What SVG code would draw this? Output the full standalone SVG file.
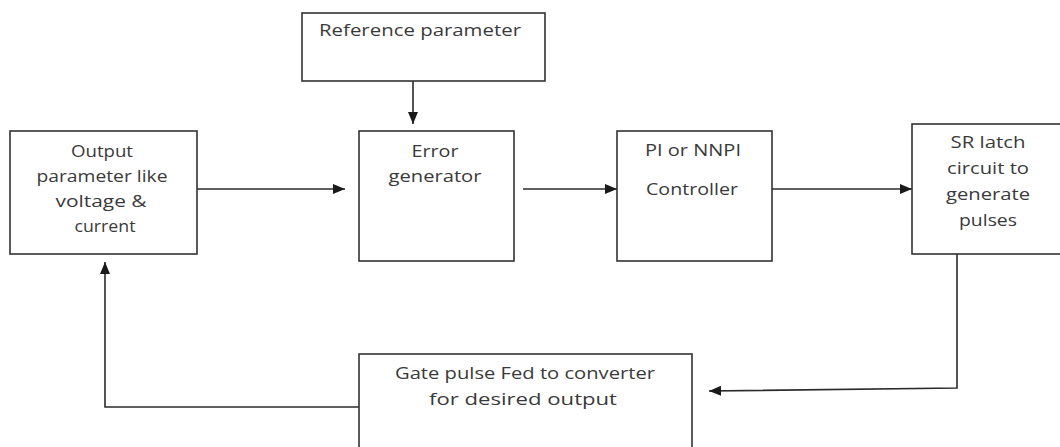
<svg xmlns="http://www.w3.org/2000/svg" width="1060" height="447" viewBox="0 0 1060 447">
  <style>
    .box { fill: #ffffff; stroke: #333333; stroke-width: 1.6; }
    .lbl { font-family: "Open Sans", "Liberation Sans", sans-serif; font-size: 17px; fill: #3a3a3a; text-anchor: middle; }
    .wire { fill: none; stroke: #2b2b2b; stroke-width: 1.6; }
  </style>
  <defs>
    <marker id="arrow" markerUnits="userSpaceOnUse" markerWidth="12" markerHeight="12" viewBox="0 0 12 12" refX="12" refY="6" orient="auto">
      <path d="M0,1 L12,6 L0,11 Z" fill="#1a1a1a"/>
    </marker>
  </defs>
  <rect width="1060" height="447" fill="#ffffff"/>

  <g id="connectors">
    <line class="wire" x1="413" y1="81" x2="413" y2="124" marker-end="url(#arrow)"/>
    <line class="wire" x1="197" y1="189" x2="345" y2="189" marker-end="url(#arrow)"/>
    <line class="wire" x1="523" y1="189" x2="617" y2="189" marker-end="url(#arrow)"/>
    <line class="wire" x1="772" y1="189" x2="912" y2="189" marker-end="url(#arrow)"/>
    <polyline class="wire" points="957,254 957,388 709,391" marker-end="url(#arrow)"/>
    <polyline class="wire" points="359,407 105,407 105,262" marker-end="url(#arrow)"/>
  </g>

  <g id="reference">
    <rect class="box" x="302" y="13" width="243" height="68"/>
    <text class="lbl" x="420" y="36" textLength="202" lengthAdjust="spacingAndGlyphs">Reference  parameter</text>
  </g>

  <g id="output">
    <rect class="box" x="10" y="131" width="187" height="123"/>
    <text class="lbl" x="102" y="157" textLength="62" lengthAdjust="spacingAndGlyphs">Output</text>
    <text class="lbl" x="102" y="182" textLength="131" lengthAdjust="spacingAndGlyphs">parameter like</text>
    <text class="lbl" x="101" y="207" textLength="91" lengthAdjust="spacingAndGlyphs">voltage &amp;</text>
    <text class="lbl" x="105" y="232" textLength="61" lengthAdjust="spacingAndGlyphs">current</text>
  </g>

  <g id="error">
    <rect class="box" x="359" y="131" width="155" height="130"/>
    <text class="lbl" x="435" y="157" textLength="47" lengthAdjust="spacingAndGlyphs">Error</text>
    <text class="lbl" x="435" y="182" textLength="93" lengthAdjust="spacingAndGlyphs">generator</text>
  </g>

  <g id="controller">
    <rect class="box" x="617" y="131" width="155" height="130"/>
    <text class="lbl" x="693" y="156" textLength="96" lengthAdjust="spacingAndGlyphs">PI or NNPI</text>
    <text class="lbl" x="692" y="195" textLength="92" lengthAdjust="spacingAndGlyphs">Controller</text>
  </g>

  <g id="srlatch">
    <rect class="box" x="912" y="124" width="160" height="130"/>
    <text class="lbl" x="988" y="148" textLength="75" lengthAdjust="spacingAndGlyphs">SR latch</text>
    <text class="lbl" x="988" y="174" textLength="82" lengthAdjust="spacingAndGlyphs">circuit to</text>
    <text class="lbl" x="988" y="200" textLength="84" lengthAdjust="spacingAndGlyphs">generate</text>
    <text class="lbl" x="988" y="226" textLength="58" lengthAdjust="spacingAndGlyphs">pulses</text>
  </g>

  <g id="gate">
    <rect class="box" x="359" y="354" width="333" height="110"/>
    <text class="lbl" x="525" y="379" textLength="260" lengthAdjust="spacingAndGlyphs">Gate pulse Fed to converter</text>
    <text class="lbl" x="523" y="405" textLength="188" lengthAdjust="spacingAndGlyphs">for desired output</text>
  </g>
</svg>
